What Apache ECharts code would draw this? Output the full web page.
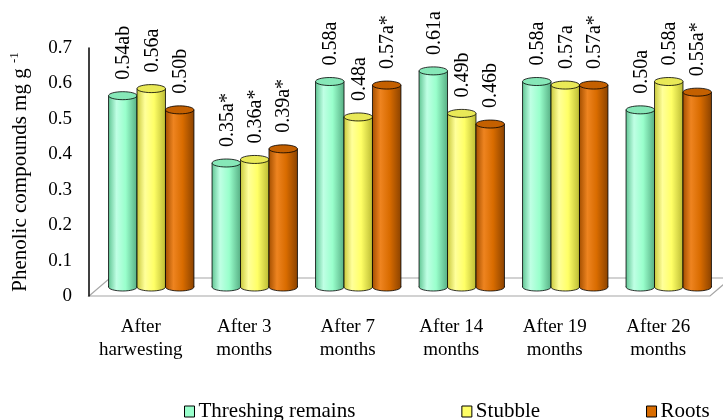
<!DOCTYPE html>
<html>
<head>
<meta charset="utf-8">
<script src="https://cdn.jsdelivr.net/npm/echarts@6/dist/echarts.min.js"></script>
<style>
  html, body { margin: 0; padding: 0; background: #fff; }
  #main { width: 723px; height: 420px; }
</style>
</head>
<body>
<div id="main"></div>
<script>
var categories = ['After\nharwesting', 'After 3\nmonths', 'After 7\nmonths', 'After 14\nmonths', 'After 19\nmonths', 'After 26\nmonths'];
var seriesNames = ['Threshing remains', 'Stubble', 'Roots'];

var threshing = [0.54, 0.35, 0.58, 0.61, 0.58, 0.50];
var stubble = [0.56, 0.36, 0.48, 0.49, 0.57, 0.58];
var roots = [0.50, 0.39, 0.57, 0.46, 0.57, 0.55];

var threshingLabels = ['0.54ab', '0.35a*', '0.58a', '0.61a', '0.58a', '0.50a'];
var stubbleLabels = ['0.56a', '0.36a*', '0.48a', '0.49b', '0.57a', '0.58a'];
var rootsLabels = ['0.50b', '0.39a*', '0.57a*', '0.46b', '0.57a*', '0.55a*'];

var yTicks = [0, 0.1, 0.2, 0.3, 0.4, 0.5, 0.6, 0.7];

var FONT = '"Liberation Serif", "Times New Roman", serif';
var GRID_LEFT = 89, GRID_RIGHT = 13, GRID_TOP = 48, GRID_BOTTOM = 124;
var DEPTH_X = 21, DEPTH_Y = 18;   // fake 3d floor depth
var BAR_FRAC = 0.275;

// body gradients / top colours for each series
var looks = [
  { base: '#99ffcc', top: '#86e8b8', stops: ['#62c795', '#bfffe4', '#99ffcc', '#58b085'] },
  { base: '#ffff66', top: '#e9e957', stops: ['#caca3e', '#ffff9a', '#ffff66', '#bcbc34'] },
  { base: '#d96c00', top: '#c46000', stops: ['#a65000', '#ee8420', '#d96c00', '#8c4300'] }
];

function grad(stops) {
  return {
    type: 'linear', x: 0, y: 0, x2: 1, y2: 0,
    colorStops: [
      { offset: 0, color: stops[0] },
      { offset: 0.28, color: stops[1] },
      { offset: 0.6, color: stops[2] },
      { offset: 1, color: stops[3] }
    ]
  };
}

function cylinder(k, labels) {
  return function (params, api) {
    var i = api.value(0), v = api.value(1);
    var top = api.coord([i, v]);
    var zero = api.coord([i, 0]);
    var bw = api.size([1, 0])[0] * BAR_FRAC;
    var rx = bw / 2, ry = 4;
    var cx = top[0] + DEPTH_X / 2 + (k - 1) * bw;
    var topY = top[1] - DEPTH_Y / 2;
    var baseY = zero[1] - DEPTH_Y / 2;
    var look = looks[k];
    return {
      type: 'group',
      children: [
        { type: 'ellipse', shape: { cx: cx, cy: baseY, rx: rx, ry: ry },
          style: { fill: grad(look.stops), stroke: '#000', lineWidth: 0.8 } },
        { type: 'rect', shape: { x: cx - rx, y: topY, width: bw, height: baseY - topY },
          style: { fill: grad(look.stops) } },
        { type: 'line', shape: { x1: cx - rx, y1: topY, x2: cx - rx, y2: baseY },
          style: { stroke: '#000', lineWidth: 0.8 } },
        { type: 'line', shape: { x1: cx + rx, y1: topY, x2: cx + rx, y2: baseY },
          style: { stroke: '#000', lineWidth: 0.8 } },
        { type: 'ellipse', shape: { cx: cx, cy: topY, rx: rx, ry: ry },
          style: { fill: look.top, stroke: '#000', lineWidth: 0.8 } },
        { type: 'text', x: cx + 1, y: topY - 16, rotation: Math.PI / 2,
          style: { text: labels[i], font: '20px ' + FONT, fill: '#000',
                   align: 'left', verticalAlign: 'middle' } }
      ]
    };
  };
}

function toData(vals) {
  return vals.map(function (v, i) { return [i, v]; });
}

var chart = echarts.init(document.getElementById('main'));

var W = 723, H = 420;
var fx = GRID_LEFT, fy = H - GRID_BOTTOM, rxEdge = W - GRID_RIGHT;

var option = {
  animation: false,
  grid: { left: GRID_LEFT, right: GRID_RIGHT, top: GRID_TOP, bottom: GRID_BOTTOM },
  legend: {
    data: seriesNames,
    left: 184,
    top: 401,
    padding: 0,
    icon: 'rect',
    itemWidth: 10,
    itemHeight: 11,
    itemGap: 106,
    itemStyle: { borderColor: '#000', borderWidth: 1 },
    textStyle: { fontFamily: FONT, fontSize: 21, color: '#000', padding: [0, 0, 0, -1] }
  },
  xAxis: {
    type: 'category',
    data: categories,
    axisLine: { show: false },
    axisTick: { show: false },
    axisLabel: { interval: 0, fontFamily: FONT, fontSize: 19, color: '#000', margin: 20, lineHeight: 23 }
  },
  yAxis: {
    type: 'value',
    min: 0,
    max: 0.7,
    interval: 0.1,
    name: 'Phenolic compounds mg g {s|-1}',
    nameLocation: 'middle',
    nameRotate: 90,
    nameGap: 56,
    nameTextStyle: {
      fontFamily: FONT, fontSize: 21, color: '#000',
      rich: { s: { fontFamily: FONT, fontSize: 13, color: '#000', padding: [0, 0, 12, 0] } }
    },
    axisLine: { show: true, lineStyle: { color: '#000', width: 1.5 } },
    axisTick: { show: false },
    splitLine: { show: false },
    axisLabel: {
      fontFamily: FONT, fontSize: 19, color: '#000', margin: 17,
      formatter: function (v) {
        var t = yTicks.filter(function (y) { return Math.abs(y - v) < 1e-6; });
        return t.length ? String(t[0]) : '';
      }
    }
  },
  graphic: [
    {
      type: 'polygon', z: 0,
      shape: { points: [[fx, fy], [fx + DEPTH_X, fy - DEPTH_Y], [rxEdge + DEPTH_X, fy - DEPTH_Y], [rxEdge, fy]] },
      style: { fill: '#fff', stroke: '#a6a6a6', lineWidth: 1.2 }
    }
  ],
  series: [
    { name: seriesNames[0], type: 'custom', renderItem: cylinder(0, threshingLabels),
      itemStyle: { color: looks[0].base }, data: toData(threshing), z: 3 },
    { name: seriesNames[1], type: 'custom', renderItem: cylinder(1, stubbleLabels),
      itemStyle: { color: looks[1].base }, data: toData(stubble), z: 3 },
    { name: seriesNames[2], type: 'custom', renderItem: cylinder(2, rootsLabels),
      itemStyle: { color: looks[2].base }, data: toData(roots), z: 3 }
  ]
};

chart.setOption(option);
</script>
</body>
</html>
